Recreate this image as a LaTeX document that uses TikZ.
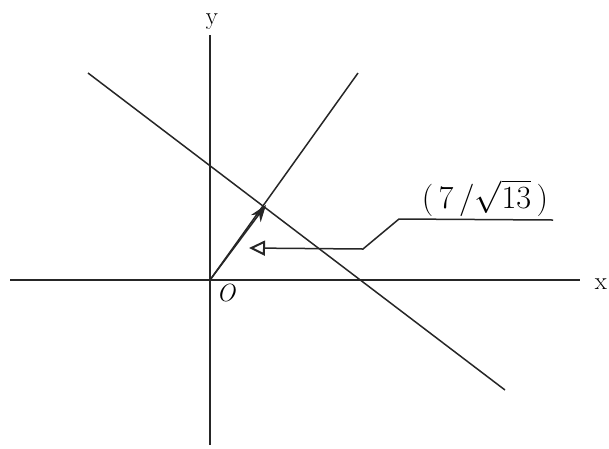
\documentclass[tikz,border=0pt]{standalone}
\usepackage{graphicx}
\usetikzlibrary{arrows.meta}
\begin{document}
\begin{tikzpicture}[x=1pt,y=-1pt,
  ln/.style={line width=1.5pt,draw=black!85},
  lbl/.style={font=\Huge,inner sep=0pt}]
\useasboundingbox (0,0) rectangle (609,448);
% axes
\coordinate (xl) at (10,280);
\coordinate (xr) at (580,280);
\coordinate (yt) at (210,35);
\coordinate (yb) at (210,445);
\coordinate (O) at (210,280);
\draw[ln] (xl) -- (xr);
\draw[ln] (yb) -- (yt);
\node[lbl] (xlab) at (601,284) {x};
\node[lbl] (ylab) at (212,22) {y};
\node[lbl,font=\Huge\itshape] (olab) at (226,293) {O};
% lines
\coordinate (a1) at (358,73);
\coordinate (b1) at (88,73);
\coordinate (b2) at (505,390);
\draw[ln] (O) -- (a1);
\draw[ln] (b1) -- (b2);
% vector to foot
\coordinate (P) at (266,205);
\draw[ln,-{Stealth[length=17pt,width=12pt]}] (O) -- (P);
% leader
\coordinate (t) at (249,248);
\coordinate (k1) at (363,249);
\coordinate (k2) at (399,219);
\coordinate (k3) at (553,220);
\draw[ln,{Triangle[open,length=16pt,width=15pt,line width=2pt]}-] (t) -- (k1) -- (k2) -- (k3);
\node[inner sep=0pt,anchor=south,font=\Huge] (val) at (485,217) {\scalebox{1.3}{$(\,7\,/\sqrt{13}\,)$}};
\end{tikzpicture}
\end{document}
